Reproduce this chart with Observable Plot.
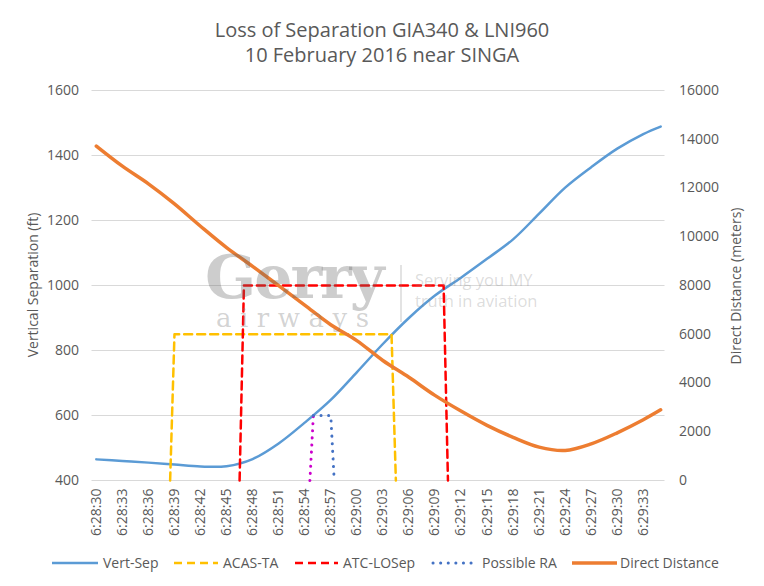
<!DOCTYPE html>
<html>
<head>
<meta charset="utf-8">
<script src="https://cdn.jsdelivr.net/npm/d3@7"></script>
<script src="https://cdn.jsdelivr.net/npm/@observablehq/plot@0.6"></script>
<style>
  body { margin: 0; background: #fff; font-family: "Open Sans", sans-serif; color: #595959; }
  #wrap { position: relative; width: 764px; height: 586px; overflow: hidden; background: #fff; }
  #title { position: absolute; top: 17px; left: 0; width: 764px; text-align: center; font-size: 20px; line-height: 25px; color: #595959; }
  #chart { position: absolute; top: 70px; left: 0; }
  .ytitle { position: absolute; font-size: 14px; color: #595959; white-space: nowrap; transform: translate(-50%, -50%) rotate(-90deg); }
  #legend { position: absolute; left: 0; top: 0; width: 764px; height: 586px; pointer-events: none; }
  #wm { position: absolute; left: 0; top: 0; pointer-events: none; }
</style>
</head>
<body>
<div id="wrap">
  <div id="title">Loss of Separation GIA340 &amp; LNI960<br>10 February 2016 near SINGA</div>
  <div id="chart"></div>
  <div class="ytitle" style="left:32px; top:285px;">Vertical Separation (ft)</div>
  <div class="ytitle" style="left:735px; top:286px;">Direct Distance (meters)</div>
</div>
<script>
// ---------- data ----------
const startTime = "6:28:30";
const tickLabels = ["6:28:30","6:28:33","6:28:36","6:28:39","6:28:42","6:28:45","6:28:48","6:28:51",
  "6:28:54","6:28:57","6:29:00","6:29:03","6:29:06","6:29:09","6:29:12","6:29:15","6:29:18",
  "6:29:21","6:29:24","6:29:27","6:29:30","6:29:33"];
const ftTicks = [400, 600, 800, 1000, 1200, 1400, 1600];
const mTicks = [0, 2000, 4000, 6000, 8000, 10000, 12000, 14000, 16000];

const seriesTimes = ["6:28:30","6:28:33","6:28:36","6:28:39","6:28:42","6:28:45","6:28:48","6:28:51",
  "6:28:54","6:28:57","6:29:00","6:29:03","6:29:06","6:29:09","6:29:12","6:29:15","6:29:18",
  "6:29:21","6:29:24","6:29:27","6:29:30","6:29:33","6:29:35"];
const vertSepFt = [465,460,455,449,443,444,466,514,578,648,733,820,900,969,1024,1082,1142,1221,1301,1364,1421,1466,1489];
const directDistM = [13720,12896,12172,11350,10432,9556,8787,7994,7194,6390,5739,4923,4234,3492,2849,2263,1773,1371,1235,1505,1957,2493,2899];

const acasTimes = ["6:28:38.5","6:28:39","6:29:04","6:29:04.5"];
const acasFt = [400, 850, 850, 400];
const atcTimes = ["6:28:46.5","6:28:47","6:29:10","6:29:10.5"];
const atcFt = [400, 1000, 1000, 400];
const raTimes = ["6:28:55","6:28:57","6:28:57.4"];
const raFt = [600, 600, 400];
const raStartTimes = ["6:28:54.6","6:28:55"];
const raStartFt = [400, 600];

const names = ["Vert-Sep", "ACAS-TA", "ATC-LOSep", "Possible RA", "Direct Distance"];
const colors = ["#5B9BD5", "#FFC000", "#FF0000", "#4472C4", "#ED7D31"];

// ---------- helpers ----------
function secs(t) { const p = t.split(":").map(Number); return p[0]*3600 + p[1]*60 + p[2]; }
const t0 = secs(startTime);
const toS = t => secs(t) - t0;
const m2ft = m => 400 + m * (1200 / 16000);
const ft2m = f => (f - 400) * (16000 / 1200);
const zip = (ts, vs) => ts.map((t, i) => ({s: toS(t), v: vs[i]}));

const vertSep = zip(seriesTimes, vertSepFt);
const dist = seriesTimes.map((t, i) => ({s: toS(t), v: m2ft(directDistM[i])}));
const acas = zip(acasTimes, acasFt);
const atc = zip(atcTimes, atcFt);
const ra = zip(raTimes, raFt);
const raStart = zip(raStartTimes, raStartFt);
const tickSecs = tickLabels.map(toS);
const labelMap = new Map(tickLabels.map(l => [toS(l), l]));

const chart = Plot.plot({
  width: 764, height: 480,
  marginLeft: 91.5, marginRight: 99.5, marginTop: 20, marginBottom: 70,
  style: {fontFamily: "Open Sans, sans-serif", color: "#595959", background: "transparent"},
  x: {domain: [-0.5, 65.5], axis: null},
  y: {domain: [400, 1600], axis: null},
  marks: [
    Plot.gridY(ftTicks, {stroke: "#d9d9d9", strokeOpacity: 1, strokeWidth: 1}),
    Plot.axisY(ftTicks, {anchor: "left", tickSize: 0, tickPadding: 13, fontSize: 14, label: null,
      tickFormat: d => String(d)}),
    Plot.axisY(mTicks.map(m2ft), {anchor: "right", tickSize: 0, tickPadding: 14, fontSize: 14, label: null,
      tickFormat: d => String(Math.round(ft2m(d)))}),
    Plot.axisX(tickSecs, {anchor: "bottom", tickSize: 0, tickPadding: 8, tickRotate: -90, fontSize: 14, label: null,
      tickFormat: d => labelMap.get(d)}),
    Plot.line(vertSep, {x: "s", y: "v", stroke: colors[0], strokeWidth: 2.5, curve: "catmull-rom"}),
    Plot.line(acas, {x: "s", y: "v", stroke: colors[1], strokeWidth: 2.5, strokeDasharray: "8,5"}),
    Plot.line(atc, {x: "s", y: "v", stroke: colors[2], strokeWidth: 2.5, strokeDasharray: "8,5"}),
    Plot.line(raStart, {x: "s", y: "v", stroke: "#CC00CC", strokeWidth: 3, strokeDasharray: "0.1,7", strokeLinecap: "round"}),
    Plot.line(ra, {x: "s", y: "v", stroke: colors[3], strokeWidth: 3, strokeDasharray: "0.1,7.5", strokeLinecap: "round"}),
    Plot.line(dist, {x: "s", y: "v", stroke: colors[4], strokeWidth: 3.5, curve: "catmull-rom"})
  ]
});
document.getElementById("chart").appendChild(chart);

// ---------- watermark & legend overlay ----------
const ns = "http://www.w3.org/2000/svg";
const ov = document.createElementNS(ns, "svg");
ov.setAttribute("width", 764); ov.setAttribute("height", 586);
ov.setAttribute("id", "wm");
ov.innerHTML = `
  <text x="205" y="298" font-family="DejaVu Serif" font-weight="bold" font-size="60" letter-spacing="-2" fill="rgba(100,100,100,0.32)">Gerry</text>
  <text x="216" y="327" font-family="DejaVu Serif" font-size="26" letter-spacing="8.5" fill="rgba(120,120,120,0.32)">airways</text>
  <line x1="401" y1="265" x2="401" y2="322" stroke="rgba(130,130,130,0.3)" stroke-width="1.5"/>
  <text x="415" y="286" font-family="Open Sans" font-size="16.5" fill="rgba(140,140,140,0.3)">Serving you MY</text>
  <text x="415" y="307" font-family="Open Sans" font-size="16.5" fill="rgba(140,140,140,0.3)">truth in aviation</text>
`;
document.getElementById("wrap").appendChild(ov);

const leg = document.createElementNS(ns, "svg");
leg.setAttribute("width", 764); leg.setAttribute("height", 586);
leg.setAttribute("id", "legend");
const items = [
  {x1: 52, x2: 98, tx: 103, w: 2.5, dash: null, cap: "butt"},
  {x1: 174, x2: 218, tx: 223, w: 2.5, dash: "8,5", cap: "butt"},
  {x1: 295, x2: 338, tx: 343, w: 2.5, dash: "8,5", cap: "butt"},
  {x1: 433, x2: 475, tx: 482, w: 3, dash: "0.1,7.5", cap: "round"},
  {x1: 572, x2: 617, tx: 620, w: 3.5, dash: null, cap: "butt"}
];
const ly = 563;
leg.innerHTML = items.map((it, i) => `
  <line x1="${it.x1}" y1="${ly}" x2="${it.x2}" y2="${ly}" stroke="${colors[i]}" stroke-width="${it.w}"
    ${it.dash ? `stroke-dasharray="${it.dash}"` : ""} stroke-linecap="${it.cap}"/>
  <text x="${it.tx}" y="${ly}" dy="0.35em" font-family="Open Sans" font-size="14" fill="#595959">${names[i]}</text>
`).join("");
document.getElementById("wrap").appendChild(leg);
</script>
</body>
</html>
